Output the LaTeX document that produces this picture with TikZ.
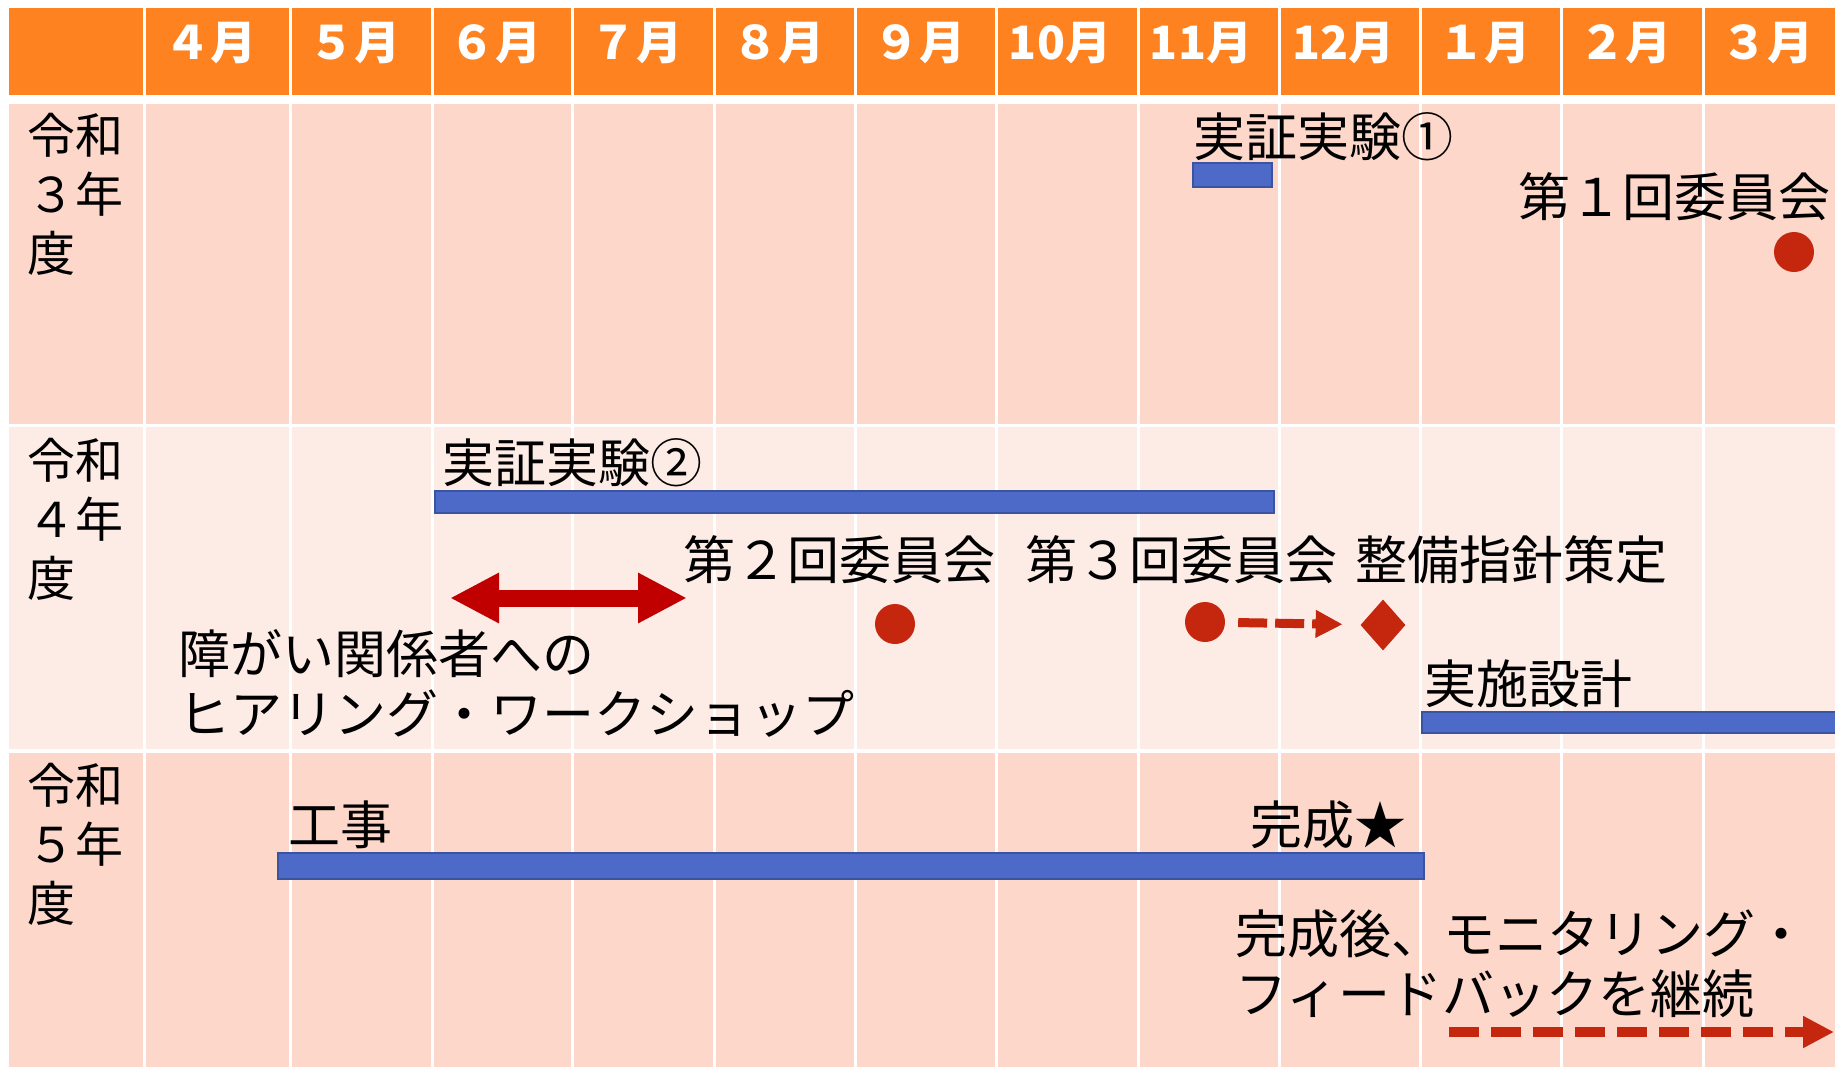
\documentclass[tikz,border=0pt]{standalone}
\usepackage{fontspec}
\setmainfont{Noto Sans CJK JP}
\usetikzlibrary{arrows.meta, positioning, shapes.geometric}

\definecolor{headorange}{RGB}{255,130,33}
\definecolor{rowdark}{RGB}{252,215,202}
\definecolor{rowlight}{RGB}{253,236,230}
\definecolor{barblue}{RGB}{78,106,200}
\definecolor{barline}{RGB}{58,84,160}
\definecolor{dotred}{RGB}{196,38,14}
\definecolor{arrowred}{RGB}{192,0,0}

\tikzset{
  txt/.style = {inner sep=0pt, anchor=base west, align=left, font=\fontsize{52bp}{60bp}\selectfont},
  year/.style = {inner sep=0pt, anchor=base west, align=left, font=\fontsize{48bp}{59bp}\selectfont},
  month/.style = {inner sep=0pt, anchor=base, text=white, font=\bfseries\fontsize{46bp}{46bp}\selectfont},
  bar/.style = {fill=barblue, draw=barline, line width=2bp},
  dot/.style = {circle, fill=dotred, minimum size=40bp, inner sep=0pt},
  milestone/.style = {diamond, fill=dotred, minimum width=45bp, minimum height=51bp, inner sep=0pt},
  dasharrow/.style = {dotred, line width=9bp, dash pattern=on 29bp off 8bp, -{Triangle[length=27bp, width=26bp]}},
  wsarrow/.style = {arrowred, line width=17bp, {Triangle[length=49bp, width=47bp]}-{Triangle[length=49bp, width=47bp]}}
}

\begin{document}
\begin{tikzpicture}[x=1bp, y=-1bp]
  \useasboundingbox (0,0) rectangle (1835,1070);
  \clip (0,0) rectangle (1835,1070);

  % Tabelle
  \fill[white] (0,0) rectangle (1835,1070);
  \fill[headorange] (9,8) rectangle (1835,95);
  \fill[rowdark] (9,104) rectangle (1835,424);
  \fill[rowlight] (9,427) rectangle (1835,749);
  \fill[rowdark] (9,753) rectangle (1835,1067);
  \foreach \x in {144,290,432,572,714,855,996,1138,1279,1420,1561,1703}
    \draw[white, line width=3bp] (\x,0) -- (\x,1070);

  % Monate
  \foreach \mx/\mt [count=\i] in {210/４月, 354/５月, 495/６月, 636/７月, 778/８月, 919/９月,
                                   1060/10月, 1201/11月, 1343/12月, 1484/１月, 1625/２月, 1767/３月}
    \node[month] (mon\i) at (\mx,59) {\mt};

  % Jahre (Basis = letzte Zeile)
  \node[year] (y3) at (27,271) {令和\\３年\\度};
  \node[year] (y4) at (27,596) {令和\\４年\\度};
  \node[year] (y5) at (27,921) {令和\\５年\\度};

  % Reiwa 3
  \node[txt] (exp1) at (1193,156) {実証実験①};
  \fill[bar] (1193,163) rectangle (1272,187);
  \node[txt] (com1t) at (1518,216) {第１回委員会};
  \node[dot] (com1) at (1794,252) {};

  % Reiwa 4
  \node[txt] (exp2) at (442,482) {実証実験②};
  \fill[bar] (435,491) rectangle (1274,513);
  \coordinate (wsl) at (450,598);
  \coordinate (wsr) at (687,598);
  \draw[wsarrow] (wsl) -- (wsr);
  \node[txt] (hear) at (178,733) {障がい関係者への\\ヒアリング・ワークショップ};
  \node[txt] (com2t) at (683,579) {第２回委員会};
  \node[dot] (com2) at (895,624) {};
  \node[txt] (com3t) at (1025,579) {第３回委員会};
  \node[dot] (com3) at (1205,622) {};
  \node[txt] (plant) at (1355,579) {整備指針策定};
  \node[milestone] (plan) at (1383,625) {};
  \draw[dasharrow, shorten <=13bp, shorten >=18bp] (com3) -- (plan);
  \node[txt] (designt) at (1424,703) {実施設計};
  \fill[bar] (1422,712) rectangle (1850,733);

  % Reiwa 5
  \node[txt] (work) at (288,844) {工事};
  \fill[bar] (278,853) rectangle (1424,879);
  \node[txt] (done) at (1250,844) {完成★};
  \node[txt] (moni) at (1235,1013) {完成後、モニタリング・\\フィードバックを継続};
  \coordinate (monil) at (1449,1032);
  \coordinate (monir) at (1834,1032);
  \draw[dasharrow, line width=10bp, dash pattern=on 30bp off 12bp,
        -{Triangle[length=31bp, width=30bp]}] (monil) -- (monir);
\end{tikzpicture}
\end{document}
